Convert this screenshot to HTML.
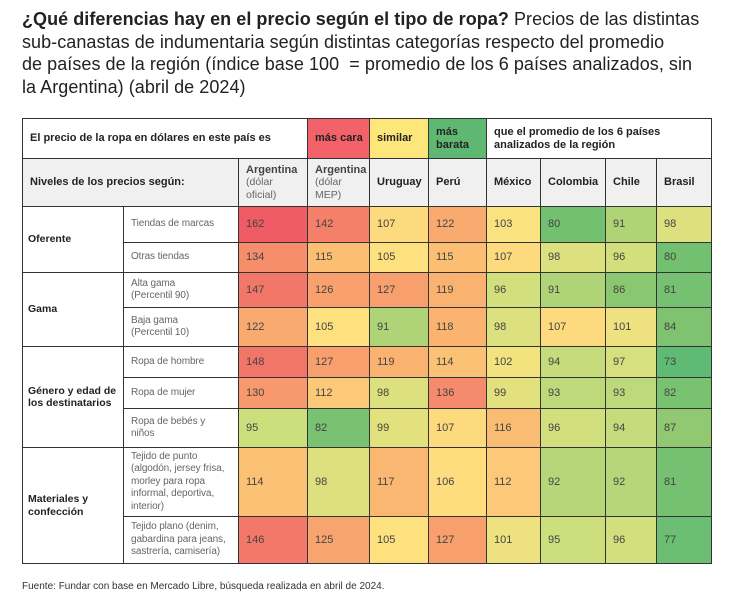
<!DOCTYPE html>
<html><head><meta charset="utf-8">
<style>
body{margin:0;width:730px;height:606px;background:#fff;font-family:"Liberation Sans",sans-serif;position:relative;overflow:hidden}
.t{position:absolute;left:22px;top:8px;font-size:18px;line-height:22.5px;color:#222;white-space:nowrap;letter-spacing:0.05px}
.c{position:absolute;box-sizing:border-box;border:1px solid #333;font-size:11px;color:#444;display:flex;align-items:center;padding-left:7px;line-height:12.5px;white-space:nowrap;overflow:hidden}
.b{font-weight:bold;color:#222}
.g{color:#666;font-size:10.5px}
.src{position:absolute;left:22px;top:581px;font-size:10px;color:#333}
</style></head><body>
<div class="t"><b>¿Qué diferencias hay en el precio según el tipo de ropa?</b> Precios de las distintas<br>sub-canastas de indumentaria según distintas categorías respecto del promedio<br>de países de la región (índice base 100&nbsp; = promedio de los 6 países analizados, sin<br>la Argentina) (abril de 2024)</div>
<div id="tb"></div>
<div class="src">Fuente: Fundar con base en Mercado Libre, búsqueda realizada en abril de 2024.</div>
<script>
var X=[22,123,238,307,369,428,486,540,605,656,711];
var R=[206,242,272,307,346,377,408,447,516,563];
var h='';
function cell(x,y,w,hh,txt,cls,bg){h+='<div class="c '+(cls||'')+'" style="left:'+x+'px;top:'+y+'px;width:'+(w+1)+'px;height:'+(hh+1)+'px;background:'+(bg||'#fff')+'">'+txt+'</div>';}
function lerp(a,b,t){return a.map(function(v,i){return Math.round(v+(b[i]-v)*t)});}
var stops=[[73,[95,187,115]],[85,[130,196,112]],[95,[205,222,125]],[104,[253,228,128]],[118,[250,180,112]],[135,[246,140,108]],[162,[240,92,100]]];
function col(v){for(var i=0;i<stops.length-1;i++){if(v<=stops[i+1][0]){var t=(v-stops[i][0])/(stops[i+1][0]-stops[i][0]);t=Math.max(0,t);var c=lerp(stops[i][1],stops[i+1][1],t);return 'rgb('+c+')';}}return 'rgb(240,92,100)';}
cell(22,118,285,40,'El precio de la ropa en dólares en este país es','b','#fff');
cell(307,118,62,40,'más cara','b','#f26268');
cell(369,118,59,40,'similar','b','#fde67a');
cell(428,118,58,40,'más<br>barata','b','#5fb872');
cell(486,118,225,40,'que el promedio de los 6 países<br>analizados de la región','b','#fff');
var hb='#f0f0f0';
cell(22,158,216,48,'Niveles de los precios según:','b',hb);
var hd=['<span><b>Argentina</b><br><span class="g">(dólar<br>oficial)</span></span>','<span><b>Argentina</b><br><span class="g">(dólar<br>MEP)</span></span>','Uruguay','Perú','México','Colombia','Chile','Brasil'];
for(var i=0;i<8;i++)cell(X[i+2],158,X[i+3]-X[i+2],48,hd[i],i<2?'':'b',hb);
var grp=[['Oferente',0,2],['Gama',2,4],['Género y edad de<br>los destinatarios',4,7],['Materiales y<br>confección',7,9]];
grp.forEach(function(g){cell(22,R[g[1]],101,R[g[2]]-R[g[1]],'<span style="font-size:10.5px;margin-left:-2px">'+g[0]+'</span>','b');});
var lab=['Tiendas de marcas','Otras tiendas','Alta gama<br>(Percentil 90)','Baja gama<br>(Percentil 10)','Ropa de hombre','Ropa de mujer','Ropa de bebés y<br>niños','Tejido de punto<br>(algodón, jersey frisa,<br>morley para ropa<br>informal, deportiva,<br>interior)','Tejido plano (denim,<br>gabardina para jeans,<br>sastrería, camisería)'];
var D=[[162,142,107,122,103,80,91,98],[134,115,105,115,107,98,96,80],[147,126,127,119,96,91,86,81],[122,105,91,118,98,107,101,84],[148,127,119,114,102,94,97,73],[130,112,98,136,99,93,93,82],[95,82,99,107,116,96,94,87],[114,98,117,106,112,92,92,81],[146,125,105,127,101,95,96,77]];
for(var r=0;r<9;r++){cell(123,R[r],115,R[r+1]-R[r],'<span style="font-size:10px;letter-spacing:-0.1px">'+lab[r]+'</span>','g');for(var c=0;c<8;c++)cell(X[c+2],R[r],X[c+3]-X[c+2],R[r+1]-R[r],D[r][c],'',col(D[r][c]));}
document.getElementById('tb').innerHTML=h;
</script>
</body></html>
